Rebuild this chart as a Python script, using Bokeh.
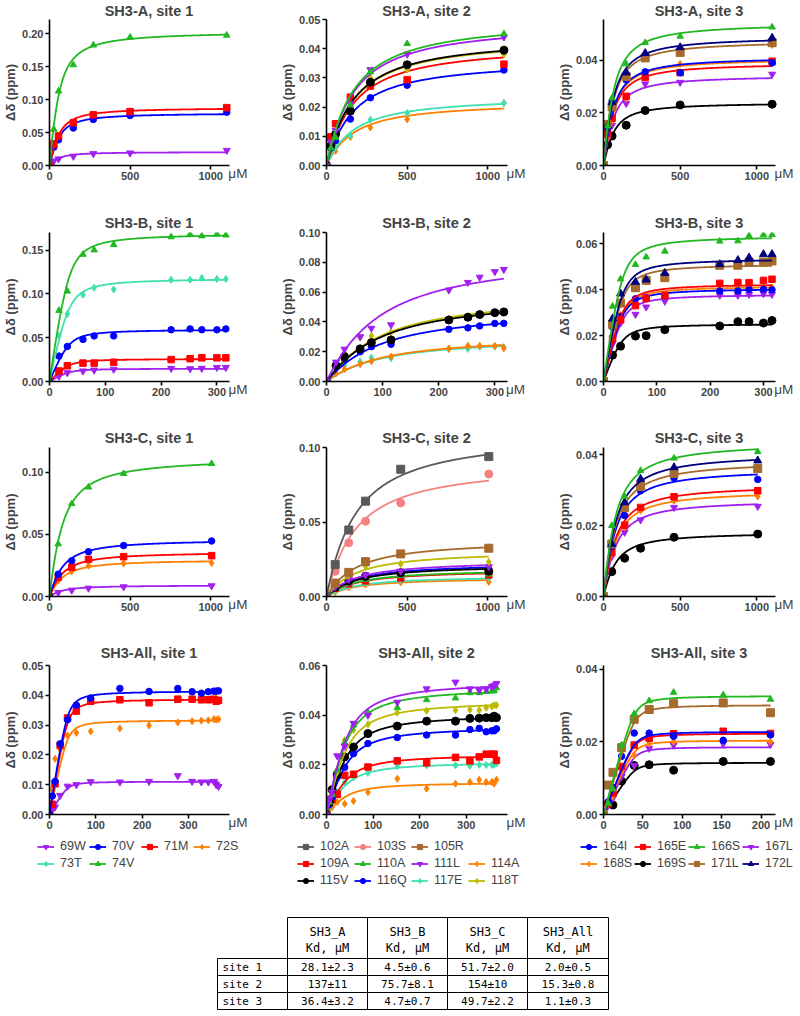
import numpy as np
from bokeh.plotting import figure
from bokeh.layouts import row, column
from bokeh.models import (Range1d, FixedTicker, PrintfTickFormatter, Legend, LegendItem,
                          LinearAxis)
from bokeh.embed import file_html
from bokeh.resources import INLINE
from bokeh.core.properties import value

# ---------------- ligand concentrations (µM) ----------------
x_A = [0, 27, 56, 148, 272, 500, 1100]
x_B = [0, 17, 32, 60, 80, 115, 218, 252, 273, 300, 316]
x_C = [0, 54, 138, 242, 460, 1006]
x_All = [0, 6, 12, 23, 39, 58, 89, 152, 215, 277, 308, 328, 343, 355, 360, 365]
x_All3 = [0, 6, 12, 23, 39, 58, 89, 152, 212]

# ---------------- Kd table ----------------
table_rows = ["site 1", "site 2", "site 3"]
table_cols = ["SH3_A", "SH3_B", "SH3_C", "SH3_All"]
kd_SH3_A = ["28.1±2.3", "137±11", "36.4±3.2"]
kd_SH3_B = ["4.5±0.6", "75.7±8.1", "4.7±0.7"]
kd_SH3_C = ["51.7±2.0", "154±10", "49.7±2.2"]
kd_SH3_All = ["2.0±0.5", "15.3±0.8", "1.1±0.3"]

# protein concentration (µM) assumed for the fitted binding isotherms
protein_A, protein_B, protein_C, protein_All = 50, 35, 50, 40

# ---------------- measured chemical shift changes (ppm) ----------------
A1 = {"69W": [0, 0.007, 0.010, 0.014, 0.018, 0.019, 0.023],
      "70V": [0, 0.028, 0.039, 0.057, 0.070, 0.076, 0.081],
      "71M": [0, 0.033, 0.045, 0.065, 0.077, 0.082, 0.088],
      "74V": [0, 0.055, 0.113, 0.153, 0.183, 0.195, 0.198]}
A1_fit_end = {"69W": 0.0200, "70V": 0.0780, "71M": 0.0860, "74V": 0.1990}

A2 = {"114A": [0, 0.0050, 0.0050, 0.0098, 0.0130, 0.0158, 0.0214],
      "117E": [0, 0.0055, 0.0062, 0.0102, 0.0157, 0.0180, 0.0214],
      "116Q": [0, 0.0060, 0.0085, 0.0159, 0.0232, 0.0275, 0.0327],
      "109A": [0, 0.0098, 0.0143, 0.0234, 0.0272, 0.0294, 0.0347],
      "118T": [0, 0.0070, 0.0110, 0.0195, 0.0300, 0.0328, 0.0380],
      "115V": [0, 0.0068, 0.0107, 0.0186, 0.0285, 0.0345, 0.0395],
      "111L": [0, 0.0080, 0.0120, 0.0213, 0.0328, 0.0381, 0.0440],
      "110A": [0, 0.0060, 0.0096, 0.0207, 0.0320, 0.0417, 0.0451]}
A2_fit_end = {"114A": 0.0195, "117E": 0.0211, "116Q": 0.0323, "109A": 0.0370,
              "118T": 0.0390, "115V": 0.0393, "111L": 0.0436, "110A": 0.0447}

A3 = {"169S": [0, 0.0079, 0.0112, 0.0153, 0.0209, 0.0230, 0.0233],
      "167L": [0, 0.0102, 0.0153, 0.0236, 0.0310, 0.0316, 0.0347],
      "168S": [0, 0.0106, 0.0170, 0.0254, 0.0347, 0.0386, 0.0458],
      "165E": [0, 0.0122, 0.0180, 0.0263, 0.0335, 0.0353, 0.0396],
      "164I": [0, 0.0143, 0.0244, 0.0325, 0.0356, 0.0353, 0.0390],
      "171L": [0, 0.0156, 0.0223, 0.0338, 0.0409, 0.0430, 0.0467],
      "172L": [0, 0.0150, 0.0240, 0.0353, 0.0427, 0.0449, 0.0485],
      "166S": [0, 0.0150, 0.0257, 0.0386, 0.0467, 0.0491, 0.0526]}
A3_fit_end = {"169S": 0.0232, "167L": 0.0332, "168S": 0.0395, "165E": 0.0378,
              "164I": 0.0400, "171L": 0.0460, "172L": 0.0475, "166S": 0.0525}

B1 = {"69W": [0, 0.006, 0.010, 0.012, 0.013, 0.014, 0.015, 0.0145, 0.015, 0.016, 0.016],
      "71M": [0, 0.012, 0.018, 0.021, 0.021, 0.022, 0.025, 0.026, 0.027, 0.027, 0.027],
      "70V": [0, 0.029, 0.040, 0.048, 0.052, 0.052, 0.059, 0.060, 0.059, 0.059, 0.060],
      "73T": [0, 0.052, 0.077, 0.099, 0.107, 0.105, 0.116, 0.116, 0.118, 0.117, 0.117],
      "74V": [0, 0.081, 0.103, 0.145, 0.150, 0.156, 0.165, 0.168, 0.166, 0.168, 0.167]}
B1_fit_end = {"69W": 0.0145, "71M": 0.0255, "70V": 0.0585, "73T": 0.1160, "74V": 0.1665}

B2 = {"117E": [0, 0.0056, 0.0107, 0.0134, 0.0160, 0.0156, 0.0217, 0.0219, 0.0234, 0.0234, 0.0232],
      "114A": [0, 0.0056, 0.0083, 0.0116, 0.0136, 0.0167, 0.0221, 0.0240, 0.0239, 0.0239, 0.0223],
      "116Q": [0, 0.0100, 0.0150, 0.0200, 0.0234, 0.0250, 0.0350, 0.0360, 0.0373, 0.0390, 0.0390],
      "118T": [0, 0.0107, 0.0190, 0.0295, 0.0306, 0.0330, 0.0420, 0.0440, 0.0450, 0.0460, 0.0460],
      "115V": [0, 0.0107, 0.0167, 0.0219, 0.0261, 0.0279, 0.0413, 0.0431, 0.0449, 0.0462, 0.0467],
      "111L": [0, 0.0130, 0.0217, 0.0300, 0.0357, 0.0380, 0.0614, 0.0665, 0.0700, 0.0737, 0.0752]}
B2_fit_end = {"117E": 0.0238, "114A": 0.0245, "116Q": 0.0390, "118T": 0.0475,
              "115V": 0.0462, "111L": 0.0690}

B3 = {"169S": [0, 0.0115, 0.0154, 0.0198, 0.0200, 0.0226, 0.0242, 0.0261, 0.0261, 0.0255, 0.0266],
      "167L": [0, 0.0165, 0.0255, 0.0293, 0.0325, 0.0350, 0.0376, 0.0376, 0.0380, 0.0383, 0.0380],
      "168S": [0, 0.0200, 0.0290, 0.0340, 0.0360, 0.0370, 0.0400, 0.0410, 0.0410, 0.0410, 0.0410],
      "164I": [0, 0.0237, 0.0284, 0.0361, 0.0366, 0.0373, 0.0395, 0.0395, 0.0402, 0.0402, 0.0400],
      "165E": [0, 0.0186, 0.0269, 0.0331, 0.0363, 0.0376, 0.0428, 0.0432, 0.0431, 0.0441, 0.0446],
      "171L": [0, 0.0249, 0.0342, 0.0409, 0.0441, 0.0453, 0.0507, 0.0507, 0.0521, 0.0521, 0.0526],
      "172L": [0, 0.0274, 0.0383, 0.0434, 0.0444, 0.0473, 0.0511, 0.0529, 0.0540, 0.0555, 0.0555],
      "166S": [0, 0.0328, 0.0447, 0.0510, 0.0543, 0.0568, 0.0612, 0.0613, 0.0636, 0.0640, 0.0640]}
B3_fit_end = {"169S": 0.0248, "167L": 0.0375, "168S": 0.0410, "164I": 0.0400,
              "165E": 0.0420, "171L": 0.0505, "172L": 0.0528, "166S": 0.0625}

C1 = {"69W": [0, 0.0032, 0.0051, 0.0067, 0.0078, 0.0086],
      "72S": [0, 0.0127, 0.0202, 0.0248, 0.0267, 0.0270],
      "71M": [0, 0.0154, 0.0235, 0.0299, 0.0321, 0.0329],
      "70V": [0, 0.0180, 0.0288, 0.0361, 0.0410, 0.0447],
      "74V": [0, 0.0423, 0.0747, 0.0881, 0.0989, 0.1070]}
C1_fit_end = {"69W": 0.0086, "72S": 0.0283, "71M": 0.0342, "70V": 0.0438, "74V": 0.1065}

C2 = {"114A": [0, 0.0030, 0.0060, 0.0080, 0.0095, 0.0098],
      "117E": [0, 0.0040, 0.0070, 0.0090, 0.0110, 0.0125],
      "109A": [0, 0.0055, 0.0085, 0.0105, 0.0125, 0.0145],
      "110A": [0, 0.0055, 0.0090, 0.0115, 0.0140, 0.0150],
      "116Q": [0, 0.0060, 0.0100, 0.0130, 0.0155, 0.0180],
      "115V": [0, 0.0062, 0.0105, 0.0136, 0.0160, 0.0170],
      "111L": [0, 0.0065, 0.0115, 0.0145, 0.0170, 0.0200],
      "118T": [0, 0.0095, 0.0140, 0.0203, 0.0218, 0.0232],
      "105R": [0, 0.0090, 0.0162, 0.0234, 0.0286, 0.0324],
      "103S": [0, 0.0169, 0.0360, 0.0505, 0.0628, 0.0822],
      "102A": [0, 0.0214, 0.0446, 0.0640, 0.0854, 0.0939]}
C2_fit_end = {"114A": 0.0110, "117E": 0.0120, "109A": 0.0155, "110A": 0.0160,
              "116Q": 0.0195, "115V": 0.0185, "111L": 0.0210, "118T": 0.0268,
              "105R": 0.0330, "103S": 0.0777, "102A": 0.0953}

C3 = {"169S": [0, 0.0070, 0.0108, 0.0136, 0.0167, 0.0176],
      "167L": [0, 0.0113, 0.0181, 0.0216, 0.0251, 0.0254],
      "168S": [0, 0.0120, 0.0195, 0.0242, 0.0270, 0.0282],
      "165E": [0, 0.0124, 0.0201, 0.0251, 0.0281, 0.0298],
      "164I": [0, 0.0141, 0.0228, 0.0298, 0.0334, 0.0330],
      "171L": [0, 0.0148, 0.0251, 0.0310, 0.0347, 0.0361],
      "172L": [0, 0.0148, 0.0265, 0.0331, 0.0364, 0.0383],
      "166S": [0, 0.0200, 0.0282, 0.0355, 0.0390, 0.0408]}
C3_fit_end = {"169S": 0.0173, "167L": 0.0260, "168S": 0.0285, "165E": 0.0300,
              "164I": 0.0344, "171L": 0.0365, "172L": 0.0385, "166S": 0.0415}

All1 = {"69W": [0, 0.0016, 0.0025, 0.0064, 0.0095, 0.0100, 0.0110, 0.0109, 0.0111, 0.0130, 0.0111, 0.0109, 0.0109, 0.0111, 0.0100, 0.0094],
        "72S": [0, 0.0084, 0.0187, 0.0218, 0.0265, 0.0274, 0.0279, 0.0289, 0.0299, 0.0309, 0.0313, 0.0315, 0.0316, 0.0320, 0.0318, 0.0320],
        "71M": [0, 0.0034, 0.0103, 0.0232, 0.0324, 0.0347, 0.0380, 0.0385, 0.0375, 0.0387, 0.0387, 0.0385, 0.0385, 0.0387, 0.0380, 0.0383],
        "70V": [0, 0.0062, 0.0111, 0.0237, 0.0318, 0.0367, 0.0391, 0.0423, 0.0413, 0.0423, 0.0412, 0.0407, 0.0412, 0.0414, 0.0414, 0.0415]}
All1_fit_end = {"69W": 0.0110, "72S": 0.0315, "71M": 0.0385, "70V": 0.0412}

All2 = {"114A": [0, 0.0020, 0.0030, 0.0050, 0.0043, 0.0054, 0.0090, 0.0144, 0.0104, 0.0124, 0.0131, 0.0140, 0.0131, 0.0131, 0.0124, 0.0140],
        "117E": [0, 0.0030, 0.0050, 0.0090, 0.0130, 0.0150, 0.0167, 0.0194, 0.0197, 0.0198, 0.0196, 0.0200, 0.0199, 0.0200, 0.0200, 0.0205],
        "109A": [0, 0.0061, 0.0059, 0.0081, 0.0158, 0.0162, 0.0191, 0.0216, 0.0208, 0.0230, 0.0216, 0.0232, 0.0243, 0.0243, 0.0243, 0.0218],
        "116Q": [0, 0.0040, 0.0070, 0.0150, 0.0190, 0.0245, 0.0286, 0.0310, 0.0320, 0.0320, 0.0342, 0.0347, 0.0333, 0.0337, 0.0337, 0.0345],
        "115V": [0, 0.0050, 0.0100, 0.0162, 0.0232, 0.0272, 0.0326, 0.0356, 0.0376, 0.0376, 0.0387, 0.0388, 0.0390, 0.0390, 0.0396, 0.0390],
        "118T": [0, 0.0050, 0.0080, 0.0170, 0.0300, 0.0340, 0.0363, 0.0410, 0.0418, 0.0420, 0.0422, 0.0420, 0.0430, 0.0435, 0.0440, 0.0440],
        "110A": [0, 0.0050, 0.0080, 0.0180, 0.0290, 0.0360, 0.0410, 0.0430, 0.0462, 0.0469, 0.0490, 0.0490, 0.0495, 0.0497, 0.0500, 0.0510],
        "111L": [0, 0.0060, 0.0090, 0.0236, 0.0275, 0.0367, 0.0400, 0.0452, 0.0506, 0.0533, 0.0506, 0.0500, 0.0505, 0.0515, 0.0520, 0.0527]}
All2_fit_end = {"114A": 0.0124, "117E": 0.0203, "109A": 0.0233, "116Q": 0.0340,
                "115V": 0.0388, "118T": 0.0440, "110A": 0.0492, "111L": 0.0515}

All3 = {"169S": [0, 0.0030, 0.0026, 0.0092, 0.0135, 0.0137, 0.0122, 0.0146, 0.0146],
        "167L": [0, 0.0025, 0.0045, 0.0105, 0.0135, 0.0182, 0.0191, 0.0195, 0.0193],
        "168S": [0, 0.0030, 0.0050, 0.0120, 0.0163, 0.0195, 0.0200, 0.0205, 0.0200],
        "165E": [0, 0.0030, 0.0059, 0.0132, 0.0191, 0.0210, 0.0222, 0.0229, 0.0223],
        "164I": [0, 0.0035, 0.0075, 0.0160, 0.0224, 0.0224, 0.0215, 0.0204, 0.0219],
        "171L": [0, 0.0081, 0.0116, 0.0184, 0.0262, 0.0289, 0.0305, 0.0307, 0.0280],
        "166S": [0, 0.0030, 0.0070, 0.0191, 0.0277, 0.0313, 0.0336, 0.0329, 0.0317]}
All3_fit_end = {"169S": 0.0142, "167L": 0.0185, "168S": 0.0203, "165E": 0.0222,
                "164I": 0.0227, "171L": 0.0300, "166S": 0.0325}

# legend rows
legend_site1 = [["69W", "70V", "71M", "72S"], ["73T", "74V"]]
legend_site2 = [["102A", "103S", "105R"], ["109A", "110A", "111L", "114A"], ["115V", "116Q", "117E", "118T"]]
legend_site3 = [["164I", "165E", "166S", "167L"], ["168S", "169S", "171L", "172L"]]

# ---------------- styles ----------------
PURPLE, BLUE, RED, ORANGE = "#A020F0", "#0000FF", "#FF0000", "#FF8000"
CYAN, GREEN, GRAY, PINK = "#40E0B0", "#22B822", "#5A5A5A", "#F58080"
BROWN, BLACK, YELLOW, NAVY = "#A66A2C", "#000000", "#BDBA00", "#00007F"
STYLE = {
    "69W": (PURPLE, "inverted_triangle", 7), "70V": (BLUE, "circle", 6.5),
    "71M": (RED, "square", 6.5), "72S": (ORANGE, "diamond", 7),
    "73T": (CYAN, "diamond", 7), "74V": (GREEN, "triangle", 6.5),
    "102A": (GRAY, "square", 8), "103S": (PINK, "circle", 8),
    "105R": (BROWN, "square", 8), "109A": (RED, "square", 6.5),
    "110A": (GREEN, "triangle", 6.5), "111L": (PURPLE, "inverted_triangle", 7),
    "114A": (ORANGE, "diamond", 7), "115V": (BLACK, "circle", 8),
    "116Q": (BLUE, "circle", 6.5), "117E": (CYAN, "diamond", 7),
    "118T": (YELLOW, "diamond", 7),
    "164I": (BLUE, "circle", 6.5), "165E": (RED, "square", 6.5),
    "166S": (GREEN, "triangle", 6.5), "167L": (PURPLE, "inverted_triangle", 7),
    "168S": (ORANGE, "diamond", 7), "169S": (BLACK, "circle", 8),
    "171L": (BROWN, "square", 8), "172L": (NAVY, "triangle", 8),
}
FONT = "Liberation Sans"


def kd_of(s):
    return float(s.split("±")[0])


def isotherm(L, kd, P):
    L = np.asarray(L, dtype=float)
    b = P + L + kd
    return (b - np.sqrt(b * b - 4.0 * P * L)) / (2.0 * P)


COLS = [dict(width=277, mbl=42, mbr=29), dict(width=277, mbl=42, mbr=28), dict(width=244, mbl=42, mbr=4)]
ROWS = [dict(height=200, mbt=16, mbb=35, ts=1), dict(height=216, mbt=32, mbb=35, ts=4),
        dict(height=216, mbt=31, mbb=36, ts=3), dict(height=202, mbt=33, mbb=20, ts=10)]
MU_GAP = 20  # px of frame kept right of the axis end for the unit label

PANELS = [
    [("SH3-A, site 1", x_A, A1, A1_fit_end, kd_of(kd_SH3_A[0]), protein_A, 1115, 0.222, [0, 500, 1000], [0, 0.05, 0.10, 0.15, 0.20]),
     ("SH3-A, site 2", x_A, A2, A2_fit_end, kd_of(kd_SH3_A[1]), protein_A, 1120, 0.05, [0, 500, 1000], [0, 0.01, 0.02, 0.03, 0.04, 0.05]),
     ("SH3-A, site 3", x_A, A3, A3_fit_end, kd_of(kd_SH3_A[2]), protein_A, 1120, 0.0555, [0, 500, 1000], [0, 0.02, 0.04])],
    [("SH3-B, site 1", x_B, B1, B1_fit_end, kd_of(kd_SH3_B[0]), protein_B, 322, 0.170, [0, 100, 200, 300], [0, 0.05, 0.10, 0.15]),
     ("SH3-B, site 2", x_B, B2, B2_fit_end, kd_of(kd_SH3_B[1]), protein_B, 322, 0.10, [0, 100, 200, 300], [0, 0.02, 0.04, 0.06, 0.08, 0.10]),
     ("SH3-B, site 3", x_B, B3, B3_fit_end, kd_of(kd_SH3_B[2]), protein_B, 322, 0.065, [0, 100, 200, 300], [0, 0.02, 0.04, 0.06])],
    [("SH3-C, site 1", x_C, C1, C1_fit_end, kd_of(kd_SH3_C[0]), protein_C, 1115, 0.12, [0, 500, 1000], [0, 0.05, 0.10]),
     ("SH3-C, site 2", x_C, C2, C2_fit_end, kd_of(kd_SH3_C[1]), protein_C, 1120, 0.10, [0, 500, 1000], [0, 0.05, 0.10]),
     ("SH3-C, site 3", x_C, C3, C3_fit_end, kd_of(kd_SH3_C[2]), protein_C, 1120, 0.042, [0, 500, 1000], [0, 0.02, 0.04])],
    [("SH3-All, site 1", x_All, All1, All1_fit_end, kd_of(kd_SH3_All[0]), protein_All, 388, 0.05, [0, 100, 200, 300], [0, 0.01, 0.02, 0.03, 0.04, 0.05]),
     ("SH3-All, site 2", x_All, All2, All2_fit_end, kd_of(kd_SH3_All[1]), protein_All, 388, 0.06, [0, 100, 200, 300], [0, 0.02, 0.04, 0.06]),
     ("SH3-All, site 3", x_All3, All3, All3_fit_end, kd_of(kd_SH3_All[2]), protein_All, 218, 0.041, [0, 50, 100, 150, 200], [0, 0.02, 0.04])],
]


def style_axis(ax):
    ax.axis_line_width = 1.6
    ax.major_tick_line_width = 1.6
    ax.major_tick_out = 4
    ax.major_tick_in = 0
    ax.minor_tick_out = 0
    ax.minor_tick_in = 0
    ax.major_label_text_font = FONT
    ax.major_label_text_font_style = "bold"
    ax.major_label_text_font_size = "11px"
    ax.major_label_standoff = 2


def make_panel(spec, colcfg, rowcfg):
    title, xs, data, ends, kd, P, axis_end, ymax, xt, yt = spec
    frame_w = colcfg["width"] - colcfg["mbl"] - colcfg["mbr"]
    axis_px = frame_w - MU_GAP
    x_end = axis_end * frame_w / axis_px
    mu_x = int(round(axis_end * (axis_px + 9) / axis_px))

    p = figure(width=colcfg["width"], height=rowcfg["height"], title=title,
               x_range=Range1d(0, x_end), y_range=Range1d(0, ymax),
               output_backend="svg", toolbar_location=None)
    p.min_border_left = colcfg["mbl"]
    p.min_border_right = colcfg["mbr"]
    p.min_border_top = rowcfg["mbt"]
    p.min_border_bottom = rowcfg["mbb"]
    p.outline_line_color = None
    p.grid.visible = False
    p.title.align = "center"
    p.title.text_font = FONT
    p.title.text_font_size = "14.5px"
    p.title.text_font_style = "bold"
    p.title.standoff = rowcfg["ts"]
    style_axis(p.xaxis[0])
    style_axis(p.yaxis[0])
    p.xaxis[0].bounds = (0, axis_end)
    p.xaxis.ticker = FixedTicker(ticks=xt)
    p.yaxis.ticker = FixedTicker(ticks=yt)
    p.yaxis.formatter = PrintfTickFormatter(format="%.2f")
    p.yaxis.axis_label = "Δδ (ppm)"
    p.yaxis.axis_label_text_font = FONT
    p.yaxis.axis_label_text_font_style = "bold"
    p.yaxis.axis_label_text_font_size = "13px"
    p.yaxis.axis_label_standoff = 1

    # unit label sitting at the end of the x axis, on the tick-label line
    mu_axis = LinearAxis(ticker=FixedTicker(ticks=[mu_x]), major_label_overrides={mu_x: "μM"},
                         axis_line_color=None, major_tick_line_color=None,
                         minor_tick_line_color=None, major_tick_out=0, major_tick_in=0,
                         minor_tick_out=0, minor_tick_in=0, major_label_standoff=-17,
                         major_label_text_font=FONT, major_label_text_font_size="13.5px")
    p.add_layout(mu_axis, "below")

    xfit = np.linspace(0, xs[-1], 240)
    norm = isotherm(xs[-1], kd, P)
    for res, ys in data.items():
        color, marker, size = STYLE[res]
        yfit = isotherm(xfit, kd, P) / norm * ends[res]
        p.line(xfit, yfit, line_color=color, line_width=1.8)
        p.scatter(xs, ys, marker=marker, size=size, fill_color=color, line_color=color)
    return p


rows = []
for r, specs in enumerate(PANELS):
    rows.append(row([make_panel(s, COLS[c], ROWS[r]) for c, s in enumerate(specs)], spacing=0))

# ---------------- bottom: legends + Kd table ----------------
BW, BH = 798, 178
pb = figure(width=BW, height=BH, x_range=Range1d(0, BW), y_range=Range1d(BH, 0),
            output_backend="svg", toolbar_location=None, title_location=None,
            x_axis_location=None, y_axis_location=None, min_border=0)
pb.min_border_left = pb.min_border_right = pb.min_border_top = pb.min_border_bottom = 0
pb.outline_line_color = None
pb.grid.visible = False

NAN = np.array([np.nan])


def add_legend_row(names, vx, vy, label_w):
    items = []
    for n in names:
        c, m, s = STYLE[n]
        r1 = pb.line(NAN, NAN, line_color=c, line_width=1.8)
        r2 = pb.scatter(NAN, NAN, marker=m, size=s, fill_color=c, line_color=c)
        items.append(LegendItem(label=n, renderers=[r1, r2]))
    lg = Legend(items=items, location=(vx, vy), orientation="horizontal",
                spacing=0, padding=0, margin=0, border_line_color=None,
                background_fill_alpha=0, glyph_width=17, glyph_height=13,
                label_height=16, label_width=label_w, label_standoff=6,
                label_text_font=FONT, label_text_font_size="12.5px")
    pb.add_layout(lg, "center")


legend_x = [37, 297, 580]
legend_lw = [29, 34, 31]
legend_vy = [158, 141, 124]
for lx, lw, rows_names in zip(legend_x, legend_lw, [legend_site1, legend_site2, legend_site3]):
    for k, names in enumerate(rows_names):
        add_legend_row(names, lx, legend_vy[k], lw)

# table grid
col_x = [217, 287, 367, 447, 527, 608]
row_y = [83, 124, 141, 158, 175]
hx0, hy0, hx1, hy1 = [], [], [], []
hx0.append(col_x[1]); hx1.append(col_x[-1]); hy0.append(row_y[0]); hy1.append(row_y[0])
for yy in row_y[1:]:
    hx0.append(col_x[0]); hx1.append(col_x[-1]); hy0.append(yy); hy1.append(yy)
hx0.append(col_x[0]); hx1.append(col_x[0]); hy0.append(row_y[1]); hy1.append(row_y[-1])
for xx in col_x[1:]:
    hx0.append(xx); hx1.append(xx); hy0.append(row_y[0]); hy1.append(row_y[-1])
pb.segment(hx0, hy0, hx1, hy1, line_color="black", line_width=1)

TFONT = value("DejaVu Sans Mono")
cx = [(col_x[i] + col_x[i + 1]) / 2 for i in range(1, 5)]
pb.text(x=cx, y=[97] * 4, text=table_cols, text_align="center", text_baseline="middle",
        text_font=TFONT, text_font_size="12px")
pb.text(x=cx, y=[113] * 4, text=["Kd, μM"] * 4, text_align="center", text_baseline="middle",
        text_font=TFONT, text_font_size="12px")
ry = [(row_y[i] + row_y[i + 1]) / 2 for i in range(1, 4)]
pb.text(x=[col_x[0] + 5] * 3, y=ry, text=table_rows, text_align="left", text_baseline="middle",
        text_font=TFONT, text_font_size="11px")
for ci, col_vals in enumerate([kd_SH3_A, kd_SH3_B, kd_SH3_C, kd_SH3_All]):
    pb.text(x=[cx[ci]] * 3, y=ry, text=col_vals, text_align="center", text_baseline="middle",
            text_font=TFONT, text_font_size="11px")

layout = column(rows + [pb], spacing=0)
open("out.html", "w").write(file_html(layout, INLINE))
